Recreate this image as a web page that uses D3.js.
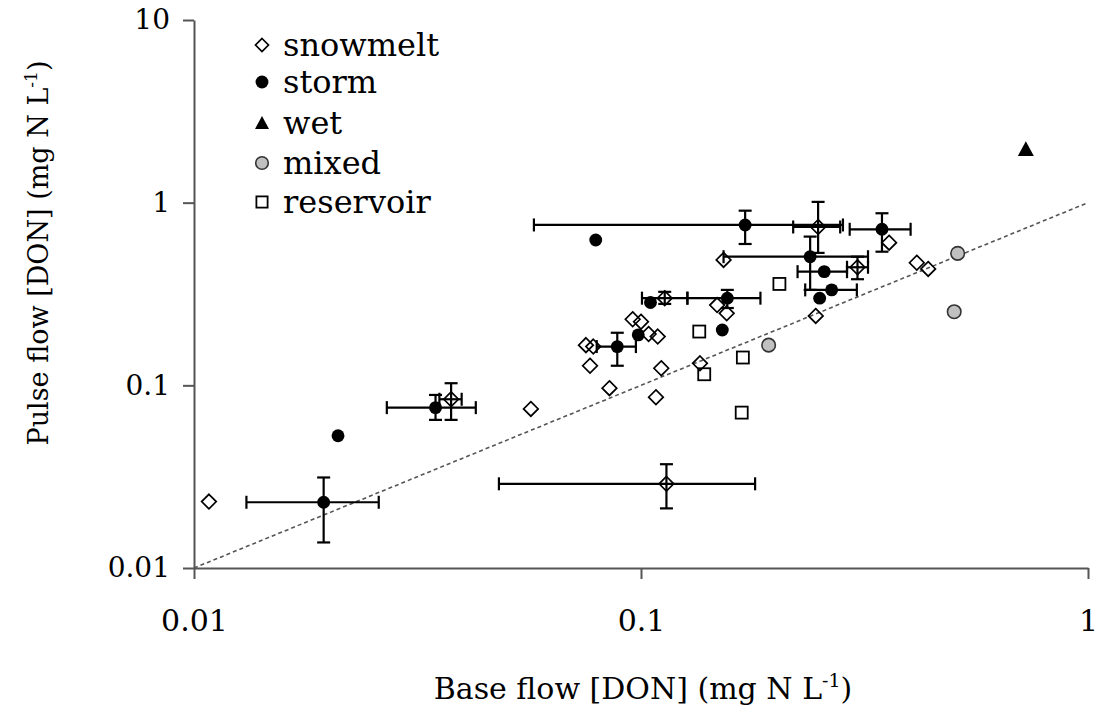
<!DOCTYPE html>
<html>
<head>
<meta charset="utf-8">
<script src="https://cdn.jsdelivr.net/npm/d3@7"></script>
<style>
  html, body { margin: 0; padding: 0; background: #fff; }
  svg { display: block; }
  text { font-family: "DejaVu Serif", "Liberation Serif", "Noto Serif", serif; fill: #000; }
</style>
</head>
<body>
<svg id="chart" width="1100" height="714"></svg>
<script>
// Tick values and labels
const xTickValues = [0.01, 0.1, 1];
const xTickLabels = ["0.01", "0.1", "1"];
const yTickValues = [0.01, 0.1, 1, 10];
const yTickLabels = ["0.01", "0.1", "1", "10"];

// Snowmelt events: base flow vs pulse flow DON (mg N/L)
const snowmeltX = [0.0108, 0.0376, 0.0567, 0.0753, 0.0782, 0.0769, 0.085, 0.0958, 0.100, 0.104,
                   0.109, 0.111, 0.108, 0.113, 0.114, 0.1355, 0.148, 0.1555, 0.153, 0.249,
                   0.246, 0.305, 0.359, 0.414, 0.439];
const snowmeltY = [0.0231, 0.0839, 0.0743, 0.166, 0.163, 0.128, 0.0965, 0.230, 0.223, 0.191,
                   0.185, 0.124, 0.0861, 0.300, 0.0289, 0.132, 0.275, 0.248, 0.486, 0.736,
                   0.240, 0.443, 0.604, 0.469, 0.434];
// Snowmelt error bars (index into the series, then ranges)
const snowmeltBarIndex = [1, 13, 14, 19, 21];
const snowmeltXLo = [0.0354, 0.1005, 0.0481, 0.219, 0.289];
const snowmeltXHi = [0.0397, 0.127, 0.180, 0.279, 0.322];
const snowmeltYLo = [0.0647, 0.279, 0.0212, 0.531, 0.381];
const snowmeltYHi = [0.1027, 0.325, 0.037, 1.01, 0.506];

// Storm events
const stormX = [0.171, 0.0792, 0.105, 0.156, 0.152, 0.0986, 0.0885, 0.346, 0.239, 0.257,
                0.267, 0.251, 0.0347, 0.021, 0.0195];
const stormY = [0.755, 0.625, 0.284, 0.300, 0.201, 0.189, 0.163, 0.715, 0.506, 0.419,
                0.333, 0.300, 0.0755, 0.0530, 0.0229];
const stormBarIndex = [0, 3, 6, 7, 8, 9, 10, 12, 14];
const stormXLo = [0.0576, 0.127, 0.0796, 0.293, 0.153, 0.224, 0.233, 0.027, 0.0131];
const stormXHi = [0.283, 0.185, 0.0974, 0.401, 0.322, 0.289, 0.304, 0.0427, 0.0259];
const stormYLo = [0.594, 0.265, 0.128, 0.539, 0.333, null, null, 0.0647, 0.0138];
const stormYHi = [0.904, 0.333, 0.194, 0.875, 0.652, null, null, 0.0886, 0.0313];

// Wet, mixed and reservoir sites
const wetX = [0.726];
const wetY = [1.96];
const mixedX = [0.511, 0.502, 0.193];
const mixedY = [0.528, 0.253, 0.166];
const reservoirX = [0.135, 0.169, 0.1385, 0.168, 0.204];
const reservoirY = [0.197, 0.142, 0.115, 0.0709, 0.359];

// 1:1 reference line
const oneToOne = [0.01, 1];

const legendNames = ["snowmelt", "storm", "wet", "mixed", "reservoir"];

const svg = d3.select("#chart");
const plotLeft = 194, plotRight = 1088, plotTop = 20, plotBottom = 568;

const x = d3.scaleLog().domain([0.01, 1]).range([plotLeft, plotRight]);
const y = d3.scaleLog().domain([0.01, 10]).range([plotBottom, plotTop]);

const axisColor = "#555";
const serif = '"DejaVu Serif", "Liberation Serif", serif';

// Axes
const xAxis = svg.append("g")
  .attr("transform", `translate(0,${plotBottom})`)
  .call(d3.axisBottom(x).tickValues(xTickValues)
        .tickFormat((d, i) => xTickLabels[i]).tickSize(11).tickSizeOuter(0).tickPadding(31));
const yAxis = svg.append("g")
  .attr("transform", `translate(${plotLeft},0)`)
  .call(d3.axisLeft(y).tickValues(yTickValues)
        .tickFormat((d, i) => yTickLabels[i]).tickSize(11).tickSizeOuter(0).tickPadding(13));

[xAxis, yAxis].forEach(g => {
  g.attr("font-family", serif);
  g.select(".domain").attr("stroke", axisColor).attr("stroke-width", 2);
  g.selectAll(".tick line").attr("stroke", axisColor).attr("stroke-width", 2);
  g.selectAll(".tick text").style("font-family", serif).attr("fill", "#000");
});
xAxis.selectAll(".tick text").attr("font-size", 30);
yAxis.selectAll(".tick text").attr("font-size", 28);

// Dashed 1:1 line
svg.append("line")
  .attr("x1", x(oneToOne[0])).attr("y1", y(oneToOne[0]))
  .attr("x2", x(oneToOne[1])).attr("y2", y(oneToOne[1]))
  .attr("stroke", "#555").attr("stroke-width", 1.6)
  .attr("stroke-dasharray", "4,3");

// Error bars
const bars = svg.append("g").attr("stroke", "#000").attr("stroke-width", 2.2).attr("fill", "none");
const cap = 6.5;
function drawBars(xs, ys, idx, xlo, xhi, ylo, yhi) {
  idx.forEach((i, k) => {
    const cx = x(xs[i]), cy = y(ys[i]);
    if (xlo[k] != null) {
      const a = x(xlo[k]), b = x(xhi[k]);
      bars.append("line").attr("x1", a).attr("x2", b).attr("y1", cy).attr("y2", cy);
      bars.append("line").attr("x1", a).attr("x2", a).attr("y1", cy - cap).attr("y2", cy + cap);
      bars.append("line").attr("x1", b).attr("x2", b).attr("y1", cy - cap).attr("y2", cy + cap);
    }
    if (ylo[k] != null) {
      const a = y(ylo[k]), b = y(yhi[k]);
      bars.append("line").attr("x1", cx).attr("x2", cx).attr("y1", a).attr("y2", b);
      bars.append("line").attr("x1", cx - cap).attr("x2", cx + cap).attr("y1", a).attr("y2", a);
      bars.append("line").attr("x1", cx - cap).attr("x2", cx + cap).attr("y1", b).attr("y2", b);
    }
  });
}
drawBars(stormX, stormY, stormBarIndex, stormXLo, stormXHi, stormYLo, stormYHi);
drawBars(snowmeltX, snowmeltY, snowmeltBarIndex, snowmeltXLo, snowmeltXHi, snowmeltYLo, snowmeltYHi);

// Marker shapes
const diamond = s => `M0,${-s}L${s},0L0,${s}L${-s},0Z`;
const triangle = s => `M0,${-s}L${s},${s * 0.85}L${-s},${s * 0.85}Z`;

const marks = {
  snowmelt: (g, s) => g.append("path").attr("d", diamond(s)).attr("fill", "none")
                       .attr("stroke", "#000").attr("stroke-width", 1.7),
  storm: (g, s) => g.append("circle").attr("r", s * 0.92).attr("fill", "#000"),
  wet: (g, s) => g.append("path").attr("d", triangle(s)).attr("fill", "#000"),
  mixed: (g, s) => g.append("circle").attr("r", s * 0.9).attr("fill", "#c0c0c0")
                    .attr("stroke", "#333").attr("stroke-width", 1.6),
  reservoir: (g, s) => g.append("rect").attr("x", -s * 0.8).attr("y", -s * 0.8)
                        .attr("width", s * 1.6).attr("height", s * 1.6)
                        .attr("fill", "#fff").attr("stroke", "#000").attr("stroke-width", 1.8)
};

function drawSeries(xs, ys, kind, s) {
  const g = svg.append("g");
  xs.forEach((v, i) => {
    const p = g.append("g").attr("transform", `translate(${x(v)},${y(ys[i])})`);
    marks[kind](p, s);
  });
}
drawSeries(reservoirX, reservoirY, "reservoir", 7.5);
drawSeries(mixedX, mixedY, "mixed", 7.5);
drawSeries(snowmeltX, snowmeltY, "snowmelt", 7.3);
drawSeries(stormX, stormY, "storm", 7);
drawSeries(wetX, wetY, "wet", 8);

// Legend
const legend = svg.append("g");
const legendRows = [45, 82, 123, 163, 202];
legendNames.forEach((name, i) => {
  const p = legend.append("g").attr("transform", `translate(262,${legendRows[i]})`);
  marks[name](p, name === "snowmelt" ? 6.5 : 7);
  legend.append("text").attr("x", 283).attr("y", legendRows[i] + 11)
    .attr("font-size", 32).text(name);
});

// Axis titles
const xTitle = svg.append("text")
  .attr("x", (plotLeft + plotRight) / 2 + 2).attr("y", 699)
  .attr("text-anchor", "middle").attr("font-size", 30);
xTitle.append("tspan").text("Base flow [DON] (mg N L");
xTitle.append("tspan").attr("font-size", 19).attr("dy", -12).text("-1");
xTitle.append("tspan").attr("dy", 12).text(")");

const yTitle = svg.append("text")
  .attr("transform", "translate(48,253) rotate(-90)")
  .attr("text-anchor", "middle").attr("font-size", 27);
yTitle.append("tspan").text("Pulse flow [DON] (mg N L");
yTitle.append("tspan").attr("font-size", 17).attr("dy", -11).text("-1");
yTitle.append("tspan").attr("dy", 11).text(")");
</script>
</body>
</html>
